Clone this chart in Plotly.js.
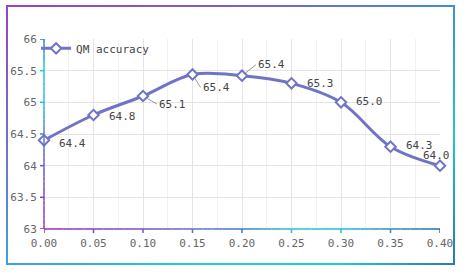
<!DOCTYPE html>
<html>
<head>
<meta charset="utf-8">
<script src="https://cdn.plot.ly/plotly-3.0.1.min.js"></script>
<style>
  html, body { margin:0; padding:0; background:#fff; }
  #wrap { position:relative; width:465px; height:277px; }
  #chart { width:465px; height:277px; }
  .edge { position:absolute; pointer-events:none; }
</style>
</head>
<body>
<div id="wrap">
  <div id="chart"></div>
  <div class="edge" style="left:6px;top:5px;width:449px;height:2px;background:linear-gradient(to right,#9a42c6,#7a62cc 55%,#3f8ed4);"></div>
  <div class="edge" style="left:6px;top:5px;width:2px;height:260px;background:linear-gradient(to bottom,#9a42c6,#6a78d0 60%,#3fa0dc);"></div>
  <div class="edge" style="left:6px;top:263px;width:449px;height:2px;background:linear-gradient(to right,#3fa0dc,#20cfd2 45%,#22c8d2 75%,#2a78b4);"></div>
  <div class="edge" style="left:453px;top:5px;width:2px;height:260px;background:linear-gradient(to bottom,#3f8ed4,#20c6d0 50%,#2a78b4);"></div>
</div>
<script>
// ---- data ----
const xValues = [0.00, 0.05, 0.10, 0.15, 0.20, 0.25, 0.30, 0.35, 0.40];
const accuracy = [64.4, 64.8, 65.1, 65.44, 65.42, 65.3, 65.0, 64.3, 64.0];
const pointLabels = ["64.4", "64.8", "65.1", "65.4", "65.4", "65.3", "65.0", "64.3", "64.0"];
const seriesName = "QM accuracy";
const xTicks = [0.00, 0.05, 0.10, 0.15, 0.20, 0.25, 0.30, 0.35, 0.40];
const yTicks = [63, 63.5, 64, 64.5, 65, 65.5, 66];

// ---- label placement (styling: pixel offsets) ----
const labelStyle = [
  ['plain', 13, -3],
  ['plain', 13, -1],
  ['lead', 14, 8],
  ['lead', 8, 13],
  ['lead', 14, -11],
  ['plain', 13, 0],
  ['plain', 13, 1],
  ['plain', 13, 1],
  ['above', -4, 10]
];

const MONO = 'DejaVu Sans Mono, monospace';
const lineColor = '#6f74c6';

function hex(c){ return [parseInt(c.slice(1,3),16),parseInt(c.slice(3,5),16),parseInt(c.slice(5,7),16)]; }
function grad(stops, t){
  for (let i=0;i<stops.length-1;i++){
    const [t0,c0]=stops[i],[t1,c1]=stops[i+1];
    if (t>=t0 && t<=t1){
      const f=(t-t0)/(t1-t0||1), a=hex(c0), b=hex(c1);
      return 'rgb('+a.map((v,k)=>Math.round(v+(b[k]-v)*f)).join(',')+')';
    }
  }
  return stops[stops.length-1][1];
}
const xStops = [[0,'#9030c0'],[0.25,'#7650c8'],[0.4,'#6070d0'],[0.5,'#3c78c8'],[0.62,'#20c4d0'],[0.75,'#20c0d0'],[0.87,'#2a90c0'],[1,'#2a6aa8']];
const yStops = [[0,'#9030c0'],[0.33,'#6a58c8'],[0.5,'#4a80c8'],[0.67,'#20c0d0'],[0.83,'#20c8d0'],[1,'#2a80b8']];

const shapes = [];
const N = 40;
for (let i=0;i<N;i++){
  const a=i/N, b=(i+1)/N, m=(a+b)/2;
  shapes.push({type:'line',xref:'x domain',yref:'y domain',x0:a,x1:b,y0:0,y1:0,line:{color:grad(xStops,m),width:1.5}});
  shapes.push({type:'line',xref:'x domain',yref:'y domain',x0:0,x1:0,y0:a,y1:b,line:{color:grad(yStops,m),width:1.5}});
}
const xMin = 0, xMax = 0.4, yMin = 63, yMax = 66;
xTicks.forEach(v=>{
  const t=(v-xMin)/(xMax-xMin);
  shapes.push({type:'line',xref:'x',yref:'y domain',ysizemode:'pixel',yanchor:0,x0:v,x1:v,y0:0,y1:-4,line:{color:grad(xStops,t),width:1.5}});
});
yTicks.forEach(v=>{
  const t=(v-yMin)/(yMax-yMin);
  shapes.push({type:'line',xref:'x domain',yref:'y',xsizemode:'pixel',xanchor:0,x0:0,x1:-4,y0:v,y1:v,line:{color:grad(yStops,t),width:1.5}});
});

const annotations = xValues.map((x,i)=>{
  const [mode,dx,dy]=labelStyle[i];
  const base = {x:x, y:accuracy[i], xref:'x', yref:'y', text:pointLabels[i],
    font:{family:MONO,size:11,color:'#444'}};
  if (mode==='lead'){
    return Object.assign(base,{showarrow:true,arrowhead:0,arrowwidth:1,arrowcolor:'#999',
      ax:dx, ay:dy, standoff:4, xanchor:'left', yanchor:'middle'});
  }
  if (mode==='above'){
    return Object.assign(base,{showarrow:false,xanchor:'center',yanchor:'middle',xshift:dx,yshift:dy});
  }
  return Object.assign(base,{showarrow:false,xanchor:'left',yanchor:'middle',xshift:dx,yshift:dy});
});

const trace = {
  x: xValues, y: accuracy, name: seriesName, type:'scatter', mode:'lines+markers',
  line:{color:lineColor,width:3,shape:'spline',smoothing:1},
  marker:{symbol:'diamond',size:8,color:'#fff',line:{color:lineColor,width:2}},
  cliponaxis:false
};

const layout = {
  width:465, height:277,
  margin:{l:44,r:25,t:39,b:48},
  paper_bgcolor:'#fff', plot_bgcolor:'#fff',
  showlegend:true,
  legend:{x:-0.02,y:1.027,xanchor:'left',yanchor:'top',bgcolor:'rgba(0,0,0,0)',
    font:{family:MONO,size:11,color:'#444'}},
  xaxis:{range:[xMin,xMax],tickvals:xTicks,tickformat:'.2f',
    showgrid:true,gridcolor:'#e4e4e4',gridwidth:1,zeroline:false,showline:false,
    ticks:'outside',ticklen:4,tickcolor:'rgba(0,0,0,0)',
    minor:{dtick:0.025,showgrid:true,gridcolor:'#f1f1f1',gridwidth:1},
    tickfont:{family:MONO,size:11,color:'#666'}},
  yaxis:{range:[yMin,yMax],tickvals:yTicks,
    showgrid:true,gridcolor:'#e4e4e4',gridwidth:1,zeroline:false,showline:false,
    ticks:'outside',ticklen:4,tickcolor:'rgba(0,0,0,0)',
    tickfont:{family:MONO,size:11,color:'#666'}},
  shapes: shapes,
  annotations: annotations
};

Plotly.newPlot('chart',[trace],layout,{displayModeBar:false,staticPlot:true});
</script>
</body>
</html>
